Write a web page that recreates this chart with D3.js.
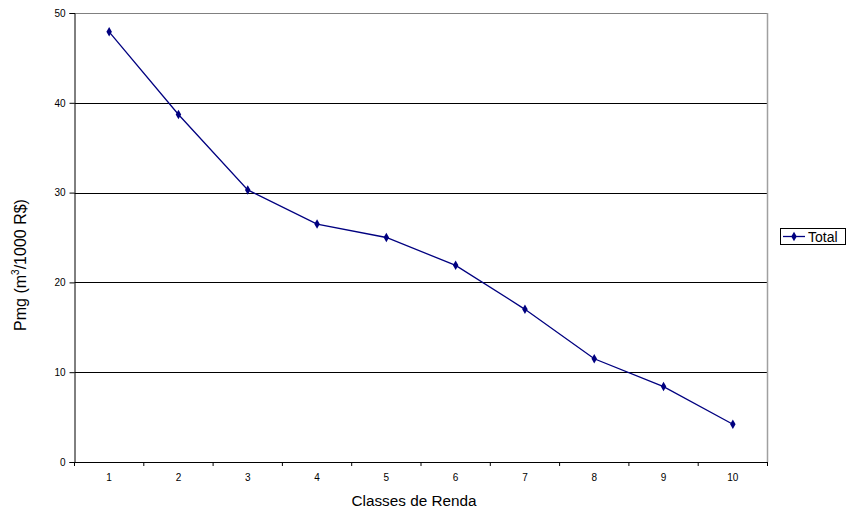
<!DOCTYPE html>
<html><head><meta charset="utf-8">
<script src="https://cdn.jsdelivr.net/npm/d3@7"></script>
<style>body{margin:0;background:#fff}svg{display:block}text{font-family:"Liberation Sans",Arial,sans-serif}</style>
</head><body><svg id="c" width="847" height="514"></svg>
<script>
const categories = ["1","2","3","4","5","6","7","8","9","10"];
const totalValues = [47.9, 38.7, 30.3, 26.5, 25.0, 21.9, 17.0, 11.5, 8.4, 4.2];
const yTicks = [0, 10, 20, 30, 40, 50];
const seriesName = "Total";

const svg = d3.select("#c");
const L = 74.5, R = 767.5, T = 13, B = 462;
const x = d3.scaleBand().domain(categories).range([L, R]);
const y = d3.scaleLinear().domain([0, 50]).range([B, T]);
const color = "#000080";

// gridlines
svg.append("g").selectAll("line").data(yTicks.filter(v => v > 0 && v < 50)).join("line")
  .attr("x1", L).attr("x2", R).attr("y1", d => Math.round(y(d)) + 0.5).attr("y2", d => Math.round(y(d)) + 0.5)
  .attr("stroke", "#000").attr("stroke-width", 1);
// top and right border
svg.append("line").attr("x1", L).attr("x2", R).attr("y1", T + 0.5).attr("y2", T + 0.5).attr("stroke", "#808080");
svg.append("line").attr("x1", R).attr("x2", R).attr("y1", T).attr("y2", B).attr("stroke", "#a0a0a0").attr("stroke-width", 1.5);

// y axis
const yAxis = d3.axisLeft(y).tickValues(yTicks).tickSize(5).tickPadding(4).tickFormat(d3.format("d"));
const gy = svg.append("g").attr("transform", `translate(${L},0)`).call(yAxis);
gy.select(".domain").attr("stroke", "#000");
gy.selectAll("text").attr("font-size", 10).attr("fill", "#000").attr("font-family", "Liberation Sans, Arial, sans-serif");

// x axis
const xAxis = d3.axisBottom(x).tickSize(0).tickPadding(12);
const gx = svg.append("g").attr("transform", `translate(0,${B})`).call(xAxis);
gx.select(".domain").attr("stroke", "#000");
gx.selectAll("text").attr("font-size", 10).attr("fill", "#000").attr("font-family", "Liberation Sans, Arial, sans-serif");
// category boundary ticks
const bounds = categories.map(c => x(c)).concat([R]);
gx.append("g").selectAll("line").data(bounds).join("line")
  .attr("x1", d => d).attr("x2", d => d).attr("y1", 0).attr("y2", 4).attr("stroke", "#000");

// axis titles
svg.append("text").attr("x", 414).attr("y", 506).attr("text-anchor", "middle")
  .attr("font-size", 15.3).text("Classes de Renda");
const yt = svg.append("text").attr("transform", `translate(25.5,265) rotate(-90)`)
  .attr("text-anchor", "middle").attr("font-size", 16);
yt.append("tspan").text("Pmg (m");
yt.append("tspan").attr("font-size", 10).attr("dy", -7).text("3");
yt.append("tspan").attr("dy", 7).text("/1000 R$)");

// line
const line = d3.line().x((d, i) => x(categories[i]) + x.bandwidth() / 2).y(d => y(d));
svg.append("path").datum(totalValues).attr("d", line).attr("fill", "none").attr("stroke", color).attr("stroke-width", 1.3);
svg.append("g").selectAll("path").data(totalValues).join("path")
  .attr("transform", (d, i) => `translate(${x(categories[i]) + x.bandwidth() / 2},${y(d)})`)
  .attr("d", d3.symbol().type(d3.symbolDiamond).size(26)).attr("fill", color);

// legend
const lg = svg.append("g");
lg.append("rect").attr("x", 780.5).attr("y", 228.5).attr("width", 65).attr("height", 16).attr("fill", "#fff").attr("stroke", "#000");
lg.append("line").attr("x1", 783).attr("x2", 805).attr("y1", 236.5).attr("y2", 236.5).attr("stroke", color).attr("stroke-width", 1.3);
lg.append("path").attr("transform", "translate(794,236.5)").attr("d", d3.symbol().type(d3.symbolDiamond).size(26)).attr("fill", color);
lg.append("text").attr("x", 808).attr("y", 242).attr("font-size", 14).text(seriesName);
</script></body></html>
